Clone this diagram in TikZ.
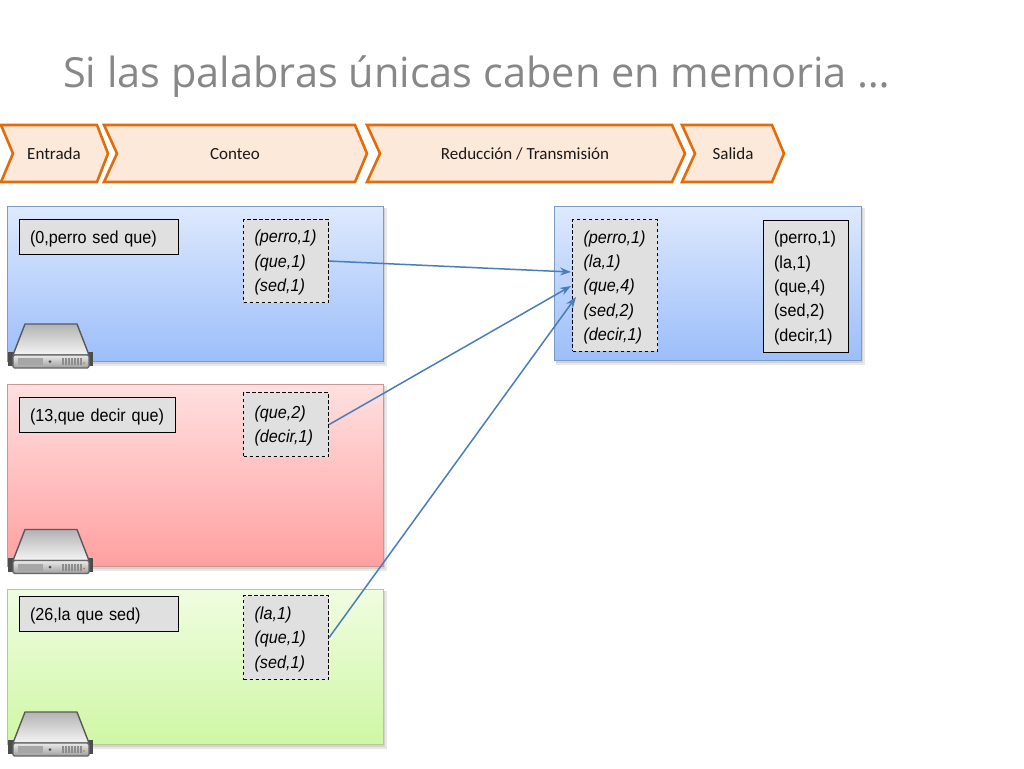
\documentclass[tikz,border=0pt]{standalone}
\usepackage{fontspec}
\setmainfont{Liberation Sans}
\newfontfamily\boxfont[FakeStretch=0.93]{Liberation Sans}
\newfontfamily\titlefont{Open Sans}
\newfontfamily\labelfont{Carlito}
\usetikzlibrary{arrows.meta}
\definecolor{chevfill}{HTML}{FDE9DA}
\definecolor{chevline}{HTML}{E36C0A}
\definecolor{boxgray}{HTML}{E0E0E0}
\definecolor{linkblue}{HTML}{4A7EBB}
\definecolor{blueedge}{RGB}{125,155,195}
\definecolor{blue1}{RGB}{222,233,253}
\definecolor{blue2}{RGB}{156,190,250}
\definecolor{rededge}{RGB}{205,150,150}
\definecolor{red1}{RGB}{255,224,224}
\definecolor{red2}{RGB}{255,160,160}
\definecolor{greenedge}{RGB}{175,205,145}
\definecolor{green1}{RGB}{240,253,225}
\definecolor{green2}{RGB}{207,247,165}
\newcommand\dropstrut{\rule{0pt}{16pt}}
\tikzset{
  chev/.style={draw=chevline,fill=chevfill,line width=2.6pt,miter limit=10,line join=miter},
  chevtext/.style={font=\labelfont\fontsize{17}{20}\selectfont,text=black!90,inner sep=0pt,text height=12pt,text depth=4pt},
  panelshadow/.style={fill=black,opacity=0.09,draw=none},
  panelblue/.style={draw=blueedge,line width=1pt,top color=blue1,bottom color=blue2},
  panelred/.style={draw=rededge,line width=1pt,top color=red1,bottom color=red2},
  panelgreen/.style={draw=greenedge,line width=1pt,top color=green1,bottom color=green2},
  inputbox/.style={draw=black,line width=1.1pt,fill=boxgray,anchor=north west,inner xsep=10.5pt,inner ysep=0pt,align=left,font=\boxfont\fontsize{17.4}{24.3}\selectfont},
  dashbox/.style={draw=black,line width=1.1pt,dash pattern=on 3.5pt off 2.5pt,fill=boxgray,anchor=north west,inner xsep=11pt,inner ysep=0pt,align=left,font=\boxfont\itshape\fontsize{17.4}{24.3}\selectfont},
  link/.style={draw=linkblue,line width=1.5pt,-{Stealth[length=11pt,width=8pt]}},
  serverunit/.pic={
    \fill[black!70] (8,352) rectangle (14,366);
    \fill[black!70] (87,352) rectangle (93,366);
    \path[draw=black!65,line width=1.4pt,line join=round,top color=black!30,bottom color=black!4]
      (25,324) -- (77,324) -- (89,355) -- (13,355) -- cycle;
    \path[draw=black!60,line width=1.4pt,rounded corners=1.5pt,top color=black!8,bottom color=black!38]
      (13,355) rectangle (89,368);
    \fill[black!35] (18,358) rectangle (43,365);
    \fill[black!70] (50,361.5) circle (1.5);
    \foreach \sx in {62,65,68,71,74,77,80}{\fill[black!45] (\sx,358) rectangle ++(1.6,7);}
    \fill[chevline] (84,363) circle (.8);
  }
}
\begin{document}
\begin{tikzpicture}[x=1pt,y=-1pt]
\useasboundingbox (0,0) rectangle (1024,768);
\fill[white] (0,0) rectangle (1024,768);
\node[anchor=west,inner sep=0pt,text=black!47,font=\titlefont\fontsize{41.5}{50}\selectfont] (title) at (63,77) {Si las palabras únicas caben en memoria …};

% chevrons
\draw[chev] (-4,125) -- (97,125) -- (108,153.5) -- (97,182) -- (-4,182) -- (1,182) -- (13,153.5) -- (1,125) -- cycle;
\draw[chev] (104,125) -- (355,125) -- (367,153.5) -- (355,182) -- (104,182) -- (117,153.5) -- cycle;
\draw[chev] (367,125) -- (672,125) -- (685,153.5) -- (672,182) -- (367,182) -- (380,153.5) -- cycle;
\draw[chev] (682,125) -- (772,125) -- (784,153.5) -- (772,182) -- (682,182) -- (695,153.5) -- cycle;
\node[chevtext] (t1) at (54,155.5) {Entrada};
\node[chevtext] (t2) at (235,155.5) {Conteo};
\node[chevtext] (t3) at (525,155.5) {Reducción / Transmisión};
\node[chevtext] (t4) at (733,155.5) {Salida};

% panels
\foreach \ax/\ay/\bx/\by in {7.5/206/383.5/361,7.5/384/383.5/566,7.5/589/383.5/744,554.5/206/861.5/360}{
  \fill[panelshadow] (\ax+1,\ay+2) rectangle (\bx+1.5,\by+3);
  \fill[panelshadow] (\ax+1,\ay+2) rectangle (\bx+3,\by+4.5);
}
\path[panelblue] (7.5,206) rectangle (383.5,361);
\path[panelred] (7.5,384) rectangle (383.5,566);
\path[panelgreen] (7.5,589) rectangle (383.5,744);
\path[panelblue] (554.5,206) rectangle (861.5,360);

% servers
\pic at (0,0) {serverunit};
\pic at (0,205.5) {serverunit};
\pic at (0,388) {serverunit};

% text boxes
\node[inputbox,minimum width=159pt,minimum height=35pt,text width=138pt] (i1) at (19,219) {\dropstrut(0,perro sed que)};
\node[inputbox,minimum width=156pt,minimum height=35pt,text width=135pt] (i2) at (19,397) {\dropstrut(13,que decir que)};
\node[inputbox,minimum width=159pt,minimum height=35pt,text width=138pt] (i3) at (19,596) {\dropstrut(26,la que sed)};
\node[dashbox,minimum width=85pt,minimum height=83pt,text width=63pt] (c1) at (243,219) {\dropstrut(perro,1)\\(que,1)\\(sed,1)};
\node[dashbox,minimum width=85pt,minimum height=64pt,text width=63pt] (c2) at (243,392) {\dropstrut(que,2)\\(decir,1)};
\node[dashbox,minimum width=85pt,minimum height=84pt,text width=63pt] (c3) at (243,595) {\dropstrut(la,1)\\(que,1)\\(sed,1)};
\node[dashbox,minimum width=85pt,minimum height=131.5pt,text width=63pt] (r) at (572,219.3) {\dropstrut(perro,1)\\(la,1)\\(que,4)\\(sed,2)\\(decir,1)};
\node[inputbox,minimum width=85pt,minimum height=131.5pt,text width=64pt] (o) at (763,220) {\dropstrut(perro,1)\\(la,1)\\(que,4)\\(sed,2)\\(decir,1)};

% connectors
\coordinate (r1) at (571,272);
\coordinate (r2) at (571,286);
\coordinate (r3) at (576,297);
\draw[link] (c1.east) -- (r1);
\draw[link] (c2.east) -- (r2);
\draw[link] (c3.east) -- (r3);
\end{tikzpicture}
\end{document}
